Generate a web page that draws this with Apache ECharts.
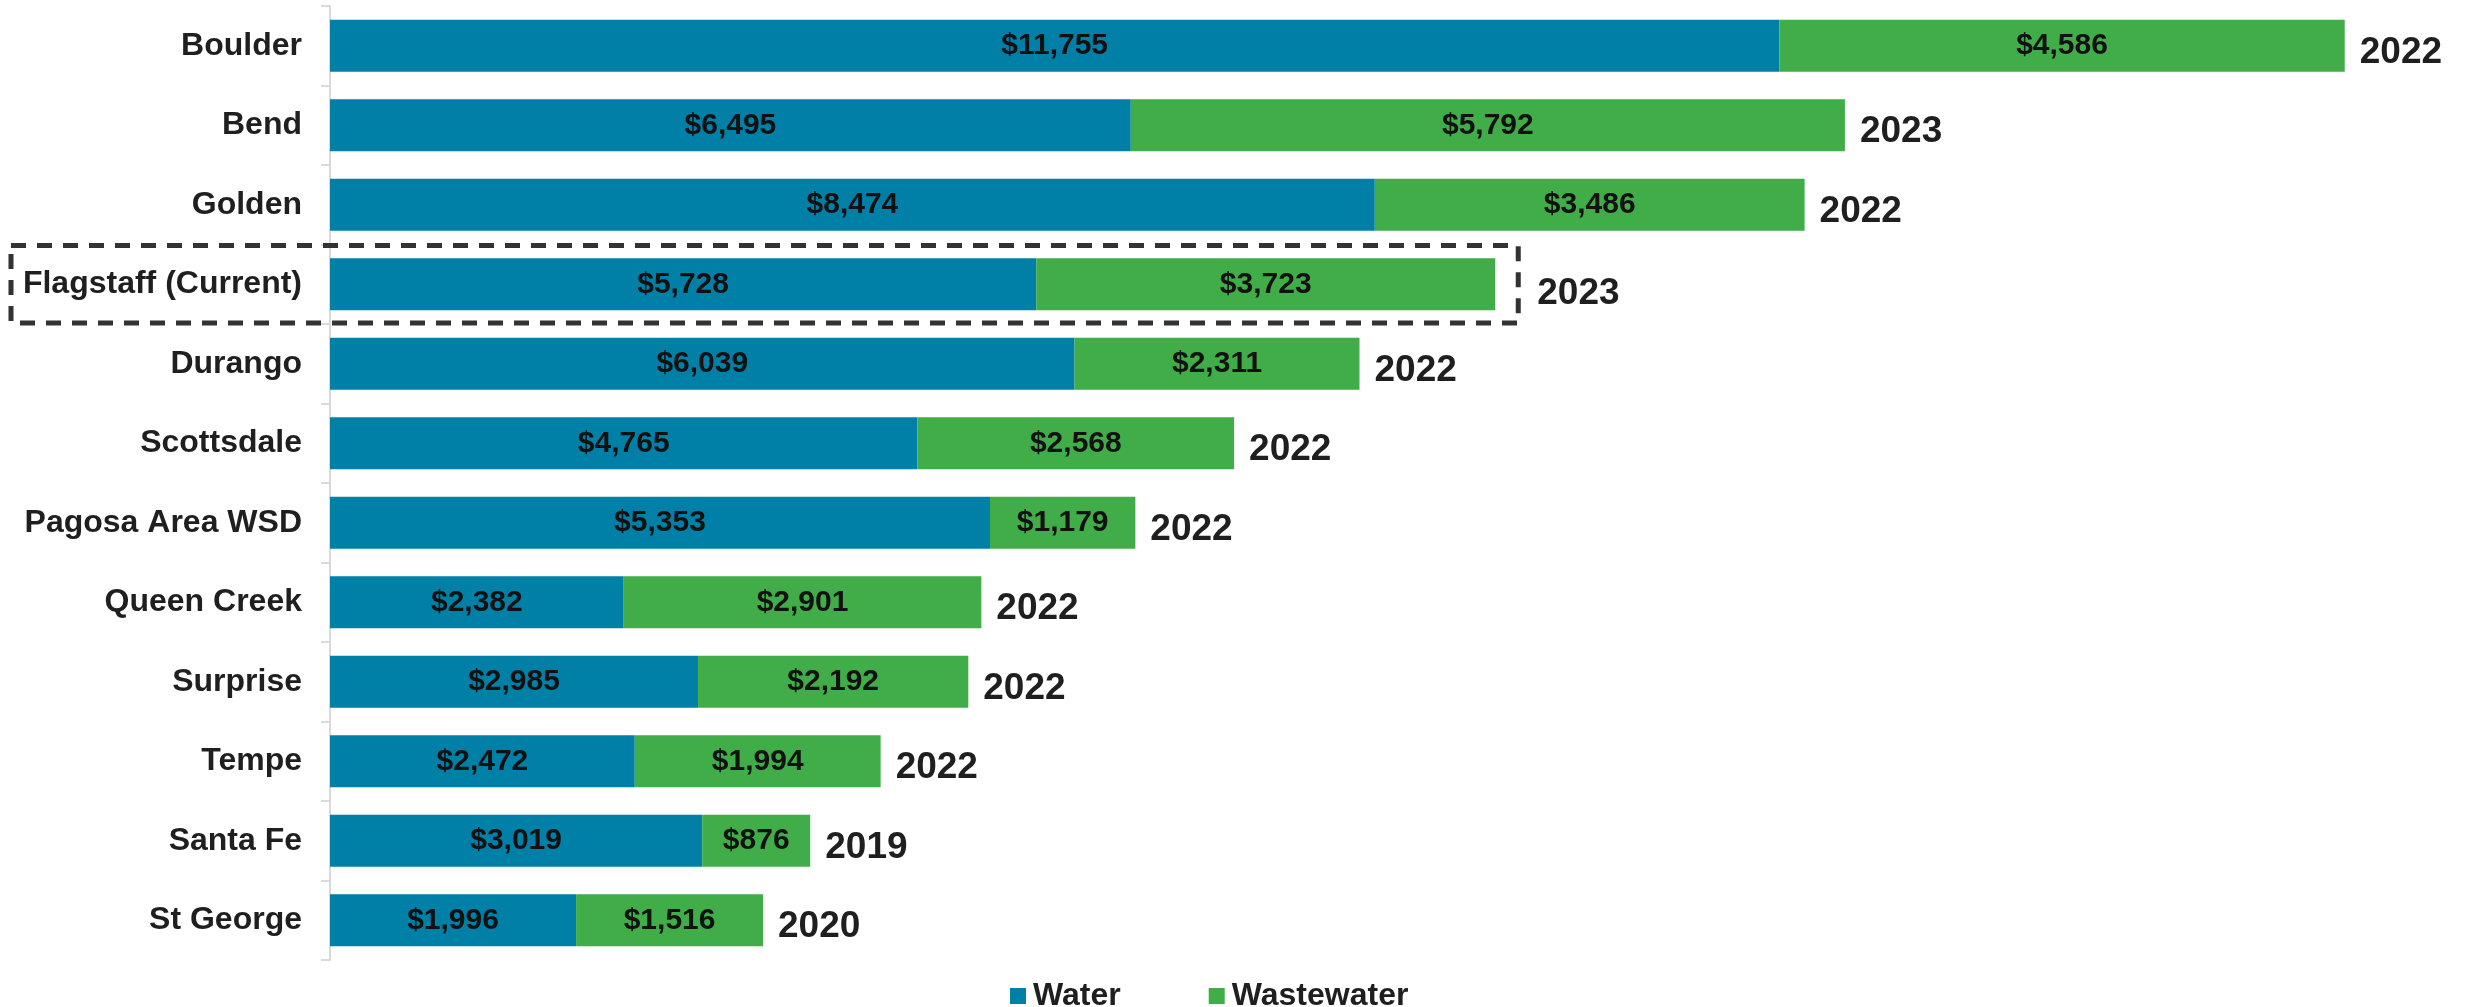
<!DOCTYPE html>
<html>
<head>
<meta charset="utf-8">
<script src="https://cdn.jsdelivr.net/npm/echarts@6/dist/echarts.min.js"></script>
<style>html,body{margin:0;padding:0;background:#fff}#c{width:2466px;height:1007px}</style>
</head>
<body>
<div id="c"></div>
<script>
const cities = ['Boulder','Bend','Golden','Flagstaff (Current)','Durango','Scottsdale','Pagosa Area WSD','Queen Creek','Surprise','Tempe','Santa Fe','St George'];
const water = [11755,6495,8474,5728,6039,4765,5353,2382,2985,2472,3019,1996];
const wastewater = [4586,5792,3486,3723,2311,2568,1179,2901,2192,1994,876,1516];
const years = ['2022','2023','2022','2023','2022','2022','2022','2022','2022','2022','2019','2020'];
const highlight = 'Flagstaff (Current)';

const FONT = '"Liberation Sans", Arial, sans-serif';
const chart = echarts.init(document.getElementById('c'));
const fmt = v => '$' + v.toLocaleString('en-US');

const yearData = cities.map((c, i) => {
  const item = { value: [water[i] + wastewater[i], c], year: years[i] };
  if (c === highlight) item.label = { distance: 42, offset: [0, 10] };
  return item;
});

const option = {
  animation: false,
  grid: { left: 330, top: 6, width: 2096, height: 954 },
  xAxis: { type: 'value', min: 0, max: 17000, show: false },
  yAxis: {
    type: 'category', data: cities, inverse: true,
    axisLine: { show: true, lineStyle: { color: '#d9d9d9', width: 2 } },
    axisTick: { show: true, length: 9, lineStyle: { color: '#d9d9d9', width: 2 } },
    axisLabel: { fontFamily: FONT, fontWeight: 'bold', fontSize: 32, color: '#1f1f1f', margin: 28 }
  },
  legend: {
    data: ['Water', 'Wastewater'], top: 975, left: 1005,
    itemWidth: 16, itemHeight: 16, itemGap: 88, icon: 'rect',
    textStyle: { fontFamily: FONT, fontWeight: 'bold', fontSize: 32, color: '#1f1f1f', padding: [0, 0, 0, 2] }
  },
  series: [
    {
      name: 'Water', type: 'bar', stack: 'total', data: water, barWidth: 52,
      itemStyle: { color: '#007FA7' },
      label: { show: true, position: 'inside', formatter: p => fmt(p.value), fontFamily: FONT, fontWeight: 'bold', fontSize: 30, color: '#111' }
    },
    {
      name: 'Wastewater', type: 'bar', stack: 'total', data: wastewater, barWidth: 52,
      itemStyle: { color: '#41AD49' },
      label: { show: true, position: 'inside', formatter: p => fmt(p.value), fontFamily: FONT, fontWeight: 'bold', fontSize: 30, color: '#111' }
    },
    {
      name: 'Year', type: 'scatter', data: yearData, symbolSize: 0, silent: true,
      itemStyle: { opacity: 1 },
      label: { show: true, position: 'right', distance: 15, offset: [0, 7], formatter: p => p.data.year, fontFamily: FONT, fontWeight: 'bold', fontSize: 37, color: '#1f1f1f' }
    }
  ]
};
chart.setOption(option);

// dashed highlight box around the current city row
const hi = cities.indexOf(highlight);
const total = water[hi] + wastewater[hi];
const pEnd = chart.convertToPixel({ gridIndex: 0 }, [total, hi]);
const band = chart.convertToPixel({ gridIndex: 0 }, [0, hi + 1])[1] - chart.convertToPixel({ gridIndex: 0 }, [0, hi])[1];
const boxLeft = 11;
chart.setOption({
  graphic: [{
    type: 'rect', z: 100,
    shape: { x: boxLeft, y: pEnd[1] - band / 2 + 1, width: pEnd[0] + 23 - boxLeft, height: band - 2 },
    style: { fill: 'none', stroke: '#333', lineWidth: 5, lineDash: [15, 11] }
  }]
});
</script>
</body>
</html>
